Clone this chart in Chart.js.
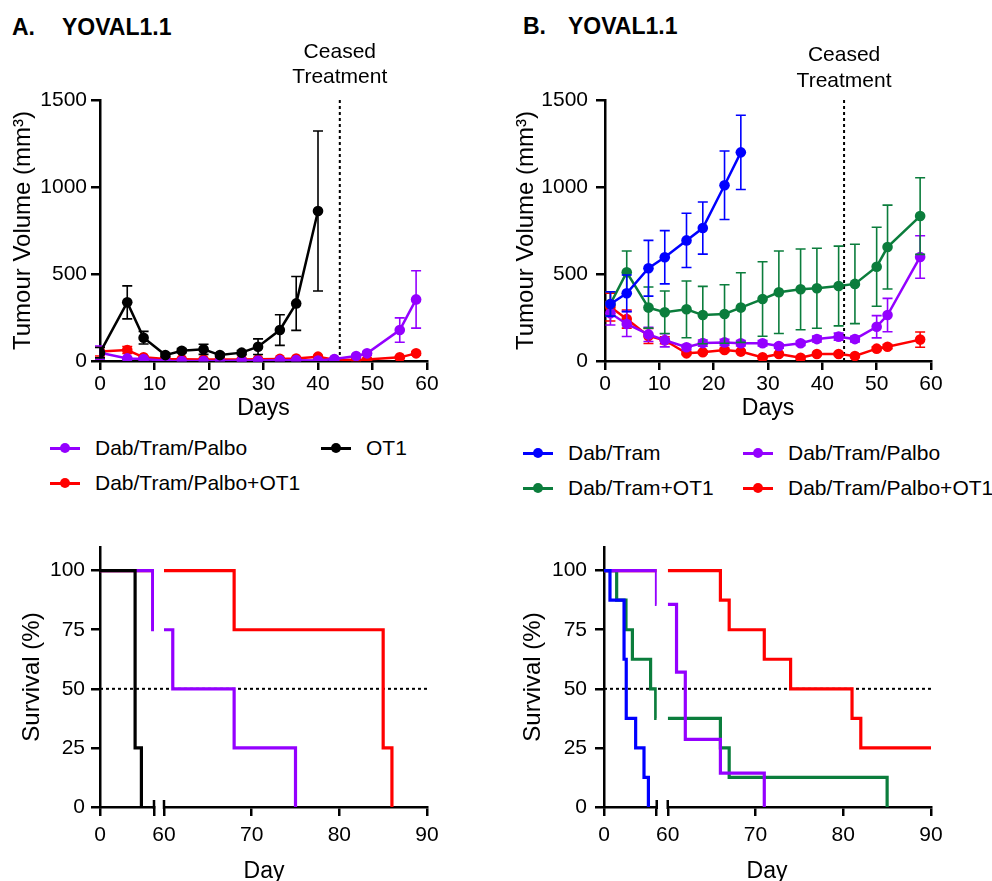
<!DOCTYPE html>
<html lang="en">
<head>
<meta charset="utf-8">
<title>YOVAL1.1 tumour growth and survival</title>
<script src="https://cdn.jsdelivr.net/npm/chart.js@4.4.1/dist/chart.umd.min.js"></script>
<style>
  html, body { margin: 0; padding: 0; background: #fff; }
  body {
    position: relative; width: 992px; height: 881px; overflow: hidden;
    font-family: 'Liberation Sans', Arial, Helvetica, sans-serif; color: #000;
  }
  canvas { position: absolute; }
  .title { position: absolute; font-weight: bold; font-size: 23px; line-height: 23px; white-space: nowrap; }
  .axis-title { position: absolute; font-size: 23px; line-height: 23px; transform: translateX(-50%); }
  .legend-item { position: absolute; height: 24px; display: flex; align-items: center; font-size: 21px; white-space: nowrap; }
  .swatch { position: relative; width: 30px; height: 3px; margin-right: 15px; }
  .swatch span { position: absolute; left: 10px; top: -3.5px; width: 10px; height: 10px; border-radius: 50%; }
</style>
</head>
<body>
<div class="title" style="left:12px; top:16px;">A.</div>
<div class="title" style="left:62px; top:16px;">YOVAL1.1</div>
<div class="title" style="left:523px; top:15px;">B.</div>
<div class="title" style="left:568px; top:15px;">YOVAL1.1</div>

<canvas id="growthA" width="460" height="420" style="left:0; top:0;"></canvas>
<canvas id="growthB" width="492" height="420" style="left:500px; top:0;"></canvas>
<canvas id="survA" width="460" height="370" style="left:0; top:520px;"></canvas>
<canvas id="survB" width="492" height="370" style="left:500px; top:520px;"></canvas>

<div class="axis-title" style="left:264px; top:859px;">Day</div>
<div class="axis-title" style="left:767px; top:859px;">Day</div>
<div id="legends"></div>

<script>
// ---- series names / colours ----
const NAME_DT = 'Dab/Tram';
const NAME_DT_OT1 = 'Dab/Tram+OT1';
const NAME_DTP = 'Dab/Tram/Palbo';
const NAME_DTP_OT1 = 'Dab/Tram/Palbo+OT1';
const NAME_OT1 = 'OT1';

const C_DT = '#0000ff';
const C_DT_OT1 = '#0b7d3c';
const C_DTP = '#9400ff';
const C_DTP_OT1 = '#ff0000';
const C_OT1 = '#000000';

const CEASED_DAY = 44;
const AXIS_BREAK = 60;
const survTicksRight = [60, 70, 80, 90];
const survTicksY = [0, 25, 50, 75, 100];

// ---- A. tumour volume (mm3), mean and SEM ----
const daysA = [0, 5, 8, 12, 15, 19, 22, 26, 29, 33, 36, 40, 43, 47, 49, 55, 58];
const ot1A = [48, 337, 134, 34, 59, 67, 34, 48, 82, 178, 331, 862];
const ot1A_sem = [30, 95, 36, 10, 12, 29, 10, 12, 45, 88, 155, 460];
const dtpA = [48, 15, 11, 2, 0, 0, 0, 3, 3, 5, 5, 3, 11, 29, 44, 178, 354];
const dtpA_sem = [38, 5, 5, 2, 2, 2, 2, 2, 2, 3, 3, 3, 4, 8, 10, 70, 165];
const dtpOt1A = [54, 63, 21, 12, 10, 8, 8, 8, 10, 12, 14, 25, 8, 6, 8, 21, 44];
const dtpOt1A_sem = [25, 20, 8, 4, 3, 3, 3, 3, 3, 4, 4, 6, 3, 3, 3, 6, 10];

// ---- B. tumour volume (mm3), mean and SEM ----
const daysB = [1, 4, 8, 11, 15, 18, 22, 25, 29, 32, 36, 39, 43, 46, 50, 52, 58];
const dtB = [328, 389, 533, 596, 693, 764, 1010, 1199];
const dtB_sem = [70, 105, 160, 153, 156, 150, 197, 213];
const dtOt1B = [328, 510, 307, 280, 297, 264, 270, 307, 356, 395, 412, 418, 431, 443, 542, 655, 833];
const dtOt1B_sem = [70, 122, 118, 122, 163, 165, 168, 200, 214, 237, 232, 230, 229, 228, 227, 241, 220];
const dtpB = [274, 213, 153, 119, 79, 103, 107, 102, 102, 86, 102, 126, 140, 126, 197, 264, 598];
const dtpB_sem = [67, 72, 41, 38, 15, 18, 18, 15, 15, 12, 12, 17, 20, 16, 64, 96, 122];
const dtpOt1B = [310, 241, 144, 119, 44, 50, 63, 54, 21, 40, 19, 40, 40, 29, 71, 82, 123];
const dtpOt1B_sem = [80, 52, 43, 20, 8, 8, 10, 8, 8, 8, 8, 8, 8, 8, 10, 12, 44];

// ---- A. survival (%) ----
const survA_ot1_day = [0, 39, 46];
const survA_ot1_pct = [100, 25, 0];
const survA_dtp_day = [0, 58.5, 61, 68, 75];
const survA_dtp_pct = [100, 75, 50, 25, 0];
const survA_dtpOt1_day = [0, 68, 85, 86];
const survA_dtpOt1_pct = [100, 75, 25, 0];

// ---- B. survival (%) ----
const survB_dt_day = [0, 6.8, 22.8, 25.3, 36, 45.5, 50.5];
const survB_dt_pct = [100, 87.5, 62.5, 37.5, 25, 12.5, 0];
const survB_dtp_day = [0, 59.7, 61, 62, 66, 71];
const survB_dtp_pct = [100, 85.7, 57.1, 28.6, 14.3, 0];
const survB_dtOt1_day = [0, 14.4, 25, 32.3, 53, 58.8, 66, 67, 85];
const survB_dtOt1_pct = [100, 87.5, 75, 62.5, 50, 37.5, 25, 12.5, 0];
const survB_dtpOt1_day = [0, 66, 67, 71, 74, 81, 82, 90];
const survB_dtpOt1_pct = [100, 87.5, 75, 62.5, 50, 37.5, 25, 25];

Chart.defaults.font.family = "'Liberation Sans', Arial, Helvetica, sans-serif";
Chart.defaults.color = '#000';

const axisGrid = { display: true, drawOnChartArea: false, drawTicks: true, tickLength: 9,
                   tickWidth: 2.5, tickColor: '#000', color: '#000', lineWidth: 2.5 };
const axisBorder = { display: true, color: '#000', width: 2.5 };

function pts(xs, ys) {
    return ys.map((y, i) => ({ x: xs[i], y }));
}

// error bars drawn under each dataset, through its own scales
const errorBars = {
    id: 'errorBars',
    beforeDatasetDraw(chart, args) {
        const ds = chart.data.datasets[args.index];
        if (!ds.errors) return;
        const meta = args.meta;
        const ys = chart.scales[meta.yAxisID];
        const xs = chart.scales[meta.xAxisID];
        const ctx = chart.ctx;
        ctx.save();
        ctx.strokeStyle = ds.borderColor;
        ctx.lineWidth = 1.6;
        ds.data.forEach((p, i) => {
            const e = ds.errors[i];
            if (!e) return;
            const x = xs.getPixelForValue(p.x);
            const top = ys.getPixelForValue(p.y + e);
            const lowVal = Math.max(p.y - e, 0);
            const bot = ys.getPixelForValue(lowVal);
            ctx.beginPath();
            ctx.moveTo(x, top); ctx.lineTo(x, bot);
            ctx.moveTo(x - 5, top); ctx.lineTo(x + 5, top);
            if (lowVal > 0) { ctx.moveTo(x - 5, bot); ctx.lineTo(x + 5, bot); }
            ctx.stroke();
        });
        ctx.restore();
    }
};

// dotted "Ceased Treatment" marker
const ceased = {
    id: 'ceased',
    beforeDatasetsDraw(chart, args, opts) {
        const { ctx } = chart;
        const x = chart.scales.x.getPixelForValue(opts.day);
        const y0 = chart.scales.y.getPixelForValue(chart.scales.y.max);
        const y1 = chart.scales.y.getPixelForValue(chart.scales.y.min);
        ctx.save();
        ctx.strokeStyle = '#000';
        ctx.lineWidth = 2;
        ctx.setLineDash([3, 3]);
        ctx.beginPath(); ctx.moveTo(x, y0); ctx.lineTo(x, y1); ctx.stroke();
        ctx.setLineDash([]);
        ctx.fillStyle = '#000';
        ctx.font = "21px 'Liberation Sans', Arial, sans-serif";
        ctx.textAlign = 'center';
        ctx.textBaseline = 'middle';
        ctx.fillText('Ceased', x, opts.textY[0]);
        ctx.fillText('Treatment', x, opts.textY[1]);
        ctx.restore();
    }
};

// dotted 50% line and the broken-axis marks on survival plots
const medianLine = {
    id: 'medianLine',
    beforeDatasetsDraw(chart, args, opts) {
        const { ctx, chartArea } = chart;
        const y = chart.scales.y.getPixelForValue(opts.value);
        ctx.save();
        ctx.strokeStyle = '#000';
        ctx.lineWidth = 2;
        ctx.setLineDash([3, 3]);
        ctx.beginPath(); ctx.moveTo(chartArea.left, y); ctx.lineTo(chartArea.right, y); ctx.stroke();
        ctx.restore();
    },
    afterDraw(chart) {
        const { ctx } = chart;
        const yb = chart.scales.y.getPixelForValue(0);
        const xa = chart.scales.x1.getPixelForValue(AXIS_BREAK);
        const xb = chart.scales.x2.getPixelForValue(AXIS_BREAK);
        ctx.save();
        ctx.strokeStyle = '#000';
        ctx.lineWidth = 2.5;
        ctx.beginPath();
        ctx.moveTo(xa, yb - 7); ctx.lineTo(xa, yb + 2);
        ctx.moveTo(xb, yb - 7); ctx.lineTo(xb, yb + 2);
        ctx.stroke();
        ctx.restore();
    }
};

function growthSet(label, days, vals, sem, color) {
    return {
        label, data: pts(days, vals), errors: sem,
        borderColor: color, backgroundColor: color, pointBackgroundColor: color,
        pointBorderWidth: 0, pointRadius: 5.3, borderWidth: 2.5, tension: 0, fill: false
    };
}

function growthChart(id, datasets, geo) {
    return new Chart(document.getElementById(id), {
        type: 'line',
        data: { datasets },
        options: {
            responsive: false, animation: false, devicePixelRatio: 1,
            layout: { padding: { left: 0, top: 100, right: geo.padRight, bottom: 0 } },
            plugins: {
                legend: { display: false }, tooltip: { enabled: false },
                ceased: { day: CEASED_DAY, textY: geo.textY }
            },
            scales: {
                x: {
                    type: 'linear', min: 0, max: 60,
                    ticks: { stepSize: 10, font: { size: 21 }, padding: 2, maxRotation: 0, autoSkip: false },
                    grid: axisGrid, border: axisBorder,
                    title: { display: true, text: 'Days', font: { size: 23, lineHeight: 1 }, padding: { top: 0, bottom: 0 } },
                    afterFit: s => { s.height = 59; }
                },
                y: {
                    type: 'linear', min: 0, max: 1500,
                    ticks: { stepSize: 500, font: { size: 21 }, padding: geo.yPad, callback: v => String(v) },
                    grid: axisGrid, border: axisBorder,
                    title: { display: true, text: 'Tumour Volume (mm³)', font: { size: 24, lineHeight: 1 },
                             padding: { top: geo.titlePad, bottom: 0 } },
                    afterFit: s => { s.width = geo.yWidth; }
                }
            }
        },
        plugins: [errorBars, ceased]
    });
}

// split a Kaplan-Meier curve at the axis break
function kmSegments(days, pct) {
    const left = [], right = [];
    let atBreak = pct[0];
    days.forEach((d, i) => {
        if (d < AXIS_BREAK) { left.push({ x: d, y: pct[i] }); atBreak = pct[i]; }
        else right.push({ x: d, y: pct[i] });
    });
    if (days[days.length - 1] >= AXIS_BREAK) {
        left.push({ x: AXIS_BREAK, y: atBreak });
        right.unshift({ x: AXIS_BREAK, y: atBreak });
    }
    return [left, right];
}

function kmSet(label, data, axis, color) {
    return {
        label, data, xAxisID: axis, yAxisID: 'y',
        borderColor: color, backgroundColor: color, borderWidth: 3.2,
        pointRadius: 0, stepped: 'before', fill: false,
        borderJoinStyle: 'miter', borderCapStyle: 'butt'
    };
}

function survivalChart(id, curves, geo) {
    const datasets = [];
    curves.forEach(c => {
        const [left, right] = kmSegments(c.days, c.pct);
        datasets.push(kmSet(c.label, left, 'x1', c.color));
        if (right.length) datasets.push(kmSet(c.label, right, 'x2', c.color));
    });
    const xBase = {
        type: 'linear', position: 'bottom', stack: 'day',
        grid: axisGrid, border: axisBorder,
        afterFit: s => { s.height = 83; }
    };
    return new Chart(document.getElementById(id), {
        type: 'line',
        data: { datasets },
        options: {
            responsive: false, animation: false, devicePixelRatio: 1,
            layout: { padding: { left: 0, top: 27, right: geo.padRight, bottom: 0 } },
            plugins: {
                legend: { display: false }, tooltip: { enabled: false },
                medianLine: { value: 50 }
            },
            scales: {
                x1: Object.assign({}, xBase, {
                    stackWeight: geo.w1, min: 0, max: AXIS_BREAK,
                    afterBuildTicks: s => { s.ticks = [{ value: 0 }, { value: AXIS_BREAK }]; },
                    ticks: { font: { size: 21 }, padding: 7, maxRotation: 0, autoSkip: false,
                             callback: v => (v === 0 ? '0' : '') }
                }),
                xg: {
                    type: 'linear', position: 'bottom', stack: 'day', stackWeight: geo.wg, min: 0, max: 1,
                    grid: { display: false }, border: { display: false }, ticks: { display: false },
                    afterFit: s => { s.height = 83; }
                },
                x2: Object.assign({}, xBase, {
                    stackWeight: geo.w2, min: AXIS_BREAK, max: 90,
                    afterBuildTicks: s => { s.ticks = survTicksRight.map(v => ({ value: v })); },
                    ticks: { font: { size: 21 }, padding: 7, maxRotation: 0, autoSkip: false }
                }),
                y: {
                    type: 'linear', position: 'left', min: 0, max: 110,
                    afterBuildTicks: s => { s.ticks = survTicksY.map(v => ({ value: v })); },
                    ticks: { font: { size: 21 }, padding: geo.yPad },
                    grid: axisGrid, border: axisBorder,
                    title: { display: true, text: 'Survival (%)', font: { size: 24, lineHeight: 1 },
                             padding: { top: geo.titlePad, bottom: 0 } },
                    afterFit: s => { s.width = geo.yWidth; }
                }
            }
        },
        plugins: [medianLine]
    });
}

// ---- build charts (first dataset is drawn on top) ----
growthChart('growthA', [
    growthSet(NAME_OT1, daysA, ot1A, ot1A_sem, C_OT1),
    growthSet(NAME_DTP, daysA, dtpA, dtpA_sem, C_DTP),
    growthSet(NAME_DTP_OT1, daysA, dtpOt1A, dtpOt1A_sem, C_DTP_OT1)
], { padRight: 33, yWidth: 100, yPad: 4, titlePad: 11, textY: [52, 77] });

growthChart('growthB', [
    growthSet(NAME_DT, daysB, dtB, dtB_sem, C_DT),
    growthSet(NAME_DT_OT1, daysB, dtOt1B, dtOt1B_sem, C_DT_OT1),
    growthSet(NAME_DTP, daysB, dtpB, dtpB_sem, C_DTP),
    growthSet(NAME_DTP_OT1, daysB, dtpOt1B, dtpOt1B_sem, C_DTP_OT1)
], { padRight: 61, yWidth: 105, yPad: 8, titlePad: 14, textY: [55, 81] });

survivalChart('survA', [
    { label: NAME_OT1, days: survA_ot1_day, pct: survA_ot1_pct, color: C_OT1 },
    { label: NAME_DTP, days: survA_dtp_day, pct: survA_dtp_pct, color: C_DTP },
    { label: NAME_DTP_OT1, days: survA_dtpOt1_day, pct: survA_dtpOt1_pct, color: C_DTP_OT1 }
], { padRight: 33, yWidth: 100, yPad: 6, titlePad: 20, w1: 54, wg: 10, w2: 263 });

survivalChart('survB', [
    { label: NAME_DT, days: survB_dt_day, pct: survB_dt_pct, color: C_DT },
    { label: NAME_DTP, days: survB_dtp_day, pct: survB_dtp_pct, color: C_DTP },
    { label: NAME_DT_OT1, days: survB_dtOt1_day, pct: survB_dtOt1_pct, color: C_DT_OT1 },
    { label: NAME_DTP_OT1, days: survB_dtpOt1_day, pct: survB_dtpOt1_pct, color: C_DTP_OT1 }
], { padRight: 61, yWidth: 104, yPad: 8, titlePad: 21, w1: 52.7, wg: 11, w2: 263 });

// ---- legends ----
const legendItems = [
    { label: NAME_DTP, color: C_DTP, left: 50, mid: 448 },
    { label: NAME_OT1, color: C_OT1, left: 321, mid: 448 },
    { label: NAME_DTP_OT1, color: C_DTP_OT1, left: 50, mid: 483 },
    { label: NAME_DT, color: C_DT, left: 523, mid: 453 },
    { label: NAME_DTP, color: C_DTP, left: 743, mid: 453 },
    { label: NAME_DT_OT1, color: C_DT_OT1, left: 523, mid: 488 },
    { label: NAME_DTP_OT1, color: C_DTP_OT1, left: 743, mid: 488 }
];
document.getElementById('legends').innerHTML = legendItems.map(it => `
    <div class="legend-item" style="left:${it.left}px; top:${it.mid - 12}px;">
        <div class="swatch" style="background:${it.color};"><span style="background:${it.color};"></span></div>
        <span>${it.label}</span>
    </div>`).join('');
</script>
</body>
</html>
